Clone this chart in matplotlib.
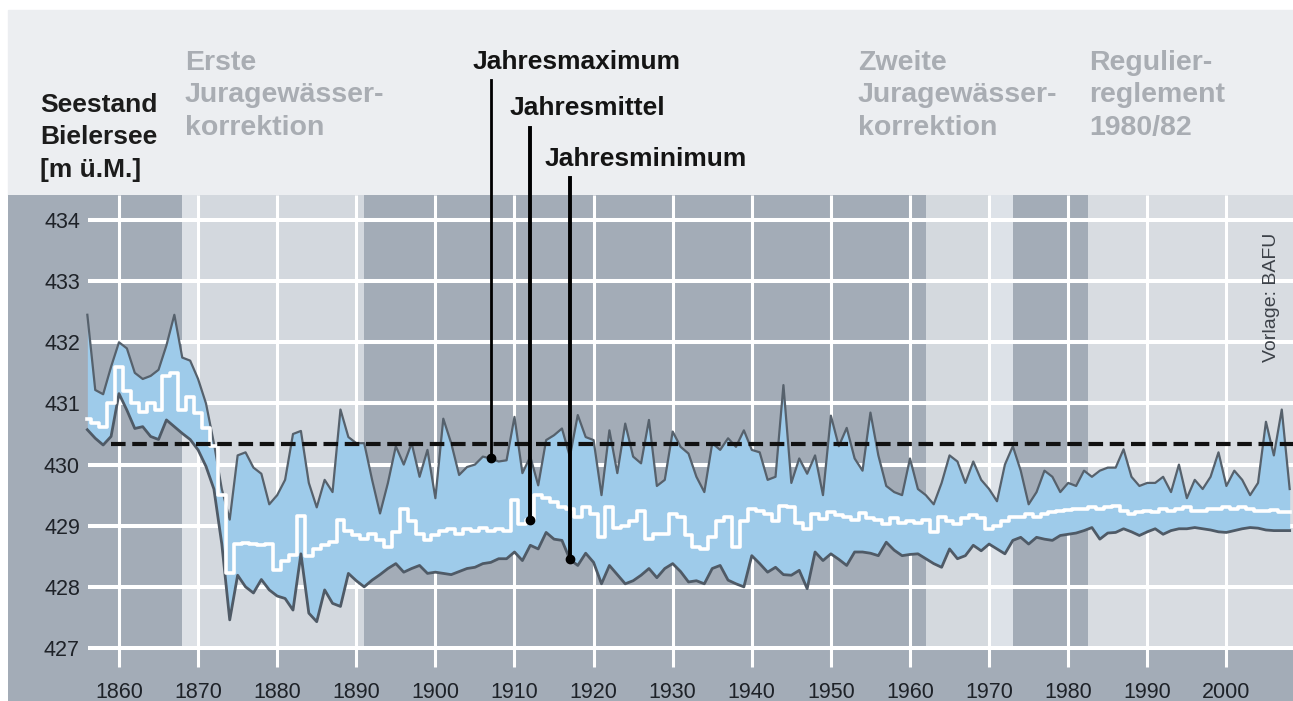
from matplotlib import pyplot as plt
from matplotlib.patches import Rectangle
import numpy as np

plt.rcParams['font.family'] = ['Liberation Sans', 'DejaVu Sans']

# annual lake levels Bielersee [m u.M.]
years = np.arange(1856, 2009)

max_level = [432.45, 431.22, 431.15, 431.6,
             432.0, 431.9, 431.5, 431.4, 431.45, 431.55, 431.95, 432.45, 431.75, 431.7,
             431.4, 431.0, 430.35, 429.6, 429.1, 430.15, 430.2, 429.95, 429.85, 429.35,
             429.5, 429.75, 430.5, 430.55, 429.7, 429.3, 429.75, 429.55, 430.9, 430.45,
             430.35, 430.35, 429.75, 429.2, 429.7, 430.3, 430.0, 430.35, 429.8, 430.24,
             429.45, 430.75, 430.35, 429.83, 429.96, 430.0, 430.13, 430.1, 430.05, 430.07,
             430.78, 429.86, 430.13, 429.66, 430.4, 430.48, 430.59, 430.13, 430.81, 430.45,
             430.4, 429.5, 430.56, 429.86, 430.67, 430.13, 430.02, 430.73, 429.65, 429.75,
             430.54, 430.29, 430.18, 429.8, 429.55, 430.35, 430.24, 430.43, 430.29, 430.56,
             430.24, 430.2, 429.75, 429.8, 431.3, 429.7, 430.1, 429.85, 430.15, 429.5,
             430.8, 430.3, 430.6, 430.1, 429.9, 430.85, 430.15, 429.65, 429.55, 429.5,
             430.1, 429.6, 429.5, 429.35, 429.7, 430.15, 430.05, 429.7, 430.05, 429.75,
             429.6, 429.4, 430.0, 430.3, 429.9, 429.35, 429.55, 429.9, 429.8, 429.55,
             429.7, 429.65, 429.9, 429.8, 429.9, 429.95, 429.95, 430.25, 429.8, 429.65,
             429.7, 429.7, 429.8, 429.55, 430.0, 429.45, 429.75, 429.6, 429.8, 430.2,
             429.65, 429.9, 429.75, 429.5, 429.7, 430.7, 430.15, 430.9, 429.6]

min_level = [430.57, 430.43, 430.32, 430.46,
             431.16, 430.89, 430.59, 430.62, 430.46, 430.41, 430.73, 430.62, 430.51, 430.41,
             430.24, 429.97, 429.6, 428.7, 427.46, 428.19, 428.0, 427.9, 428.12, 427.95,
             427.85, 427.81, 427.62, 428.54, 427.57, 427.43, 427.95, 427.73, 427.68, 428.22,
             428.1, 428.0, 428.11, 428.2, 428.3, 428.38, 428.24, 428.3, 428.35, 428.22,
             428.24, 428.22, 428.2, 428.25, 428.3, 428.32, 428.38, 428.4, 428.46, 428.46,
             428.57, 428.43, 428.68, 428.62, 428.89, 428.78, 428.76, 428.45, 428.35, 428.55,
             428.4, 428.05, 428.35, 428.2, 428.05, 428.1, 428.19, 428.3, 428.15, 428.3,
             428.38, 428.25, 428.08, 428.1, 428.05, 428.3, 428.35, 428.11, 428.05, 428.0,
             428.51, 428.38, 428.24, 428.32, 428.2, 428.19, 428.27, 427.97, 428.57, 428.43,
             428.54, 428.45, 428.35, 428.57, 428.57, 428.55, 428.51, 428.73, 428.6, 428.51,
             428.53, 428.54, 428.46, 428.38, 428.32, 428.62, 428.46, 428.51, 428.68, 428.59,
             428.7, 428.62, 428.54, 428.76, 428.81, 428.7, 428.81, 428.78, 428.76, 428.84,
             428.86, 428.88, 428.92, 428.97, 428.78, 428.88, 428.89, 428.95, 428.9, 428.84,
             428.9, 428.95, 428.86, 428.92, 428.95, 428.95, 428.97, 428.95, 428.93, 428.9,
             428.89, 428.92, 428.95, 428.97, 428.96, 428.93, 428.92, 428.92, 428.92]

mean_level = [430.75, 430.68, 430.62, 431.0,
              431.6, 431.2, 431.0, 430.86, 431.0, 430.9, 431.45, 431.5, 430.9, 431.1,
              430.85, 430.6, 430.3, 429.5, 428.22, 428.7, 428.72, 428.7, 428.68, 428.7,
              428.27, 428.43, 428.52, 429.16, 428.51, 428.62, 428.68, 428.73, 429.1, 428.92,
              428.84, 428.78, 428.86, 428.76, 428.65, 428.9, 429.27, 429.08, 428.86, 428.76,
              428.84, 428.92, 428.95, 428.86, 428.95, 428.92, 428.97, 428.92, 428.95, 428.92,
              429.42, 429.03, 429.1, 429.51, 429.46, 429.38, 429.3, 429.27, 429.14, 429.3,
              429.19, 428.81, 429.3, 428.97, 429.0, 429.08, 429.24, 428.78, 428.86, 428.86,
              429.19, 429.14, 428.84, 428.65, 428.62, 428.81, 429.08, 429.14, 428.65, 429.08,
              429.27, 429.24, 429.19, 429.08, 429.32, 429.3, 429.05, 428.95, 429.19, 429.11,
              429.22, 429.18, 429.15, 429.1, 429.2, 429.12, 429.1, 429.03, 429.12, 429.05,
              429.08, 429.05, 429.1, 428.89, 429.15, 429.08, 429.03, 429.12, 429.17, 429.12,
              428.95, 429.0, 429.08, 429.14, 429.14, 429.19, 429.14, 429.19, 429.22, 429.24,
              429.25, 429.27, 429.27, 429.3, 429.27, 429.3, 429.32, 429.24, 429.19, 429.22,
              429.24, 429.22, 429.27, 429.24, 429.27, 429.3, 429.24, 429.24, 429.27, 429.27,
              429.3, 429.27, 429.3, 429.27, 429.24, 429.24, 429.25, 429.22, 429.22]

ref_level = 430.34      # dashed line
ref_start = 1859

xtick_vals = np.arange(1860, 2001, 10)
ytick_vals = np.arange(427, 435)

# light background periods
band_starts = [1868, 1870, 1962, 1970, 1982.5]
band_ends = [1870, 1891, 1970, 1973, 2010]
band_colors = ['#dde1e6', '#d3d8de', '#d4d9de', '#dde2e8', '#d8dce1']

annot_labels = ['Jahresmaximum', 'Jahresmittel', 'Jahresminimum']
annot_years = [1907, 1912, 1917]

W, H = 1293, 701
fig = plt.figure(figsize=(W/100, H/100), dpi=100)
fig.patch.set_facecolor('white')
fig.patches.append(Rectangle((8/W, (H-195)/H), (W-8)/W, 185/H,
                             transform=fig.transFigure, color='#eceef1', zorder=-5))

ax = fig.add_axes([8/W, 0, (W-8)/W, (H-195)/H])
ax.set_facecolor('#a3acb7')
for s in ax.spines.values():
    s.set_visible(False)
xlo, xhi = 1845.97, 2008.42
ylo, yhi = 426.133, 434.409
ax.set_xlim(xlo, xhi)
ax.set_ylim(ylo, yhi)

for s, e, c in zip(band_starts, band_ends, band_colors):
    ax.add_patch(Rectangle((s, 427), e-s, yhi-427, color=c, lw=0, zorder=1))

ax.hlines(ytick_vals, 1856.08, xhi, colors='white', lw=2.9, zorder=2)
ax.vlines(xtick_vals, 426.69, yhi, colors='white', lw=2.2, zorder=2)

ax.fill_between(years, min_level, max_level, color='#9ecbea', lw=0, zorder=3)
ax.plot(years, max_level, color='#56616c', lw=1.6, zorder=4)
ax.plot(years, min_level, color='#4f5a66', lw=2.0, zorder=4)
ax.step(years, mean_level, where='mid', color='white', lw=2.6, zorder=5)
ax.hlines(ref_level, ref_start, xhi, colors='#111111', lw=3,
          linestyles=(0, (3.5, 1.6)), zorder=6)

ax.set_xticks(xtick_vals)
ax.set_yticks(ytick_vals)
ax.tick_params(axis='x', length=0, pad=-14, labelsize=15.5, labelcolor='#1e2228')
ax.tick_params(axis='y', length=0, pad=-51.8, labelsize=15.5, labelcolor='#1e2228')

# annotations: label in the header, vertical line down to the series
series = [max_level, mean_level, min_level]
text_x = [473, 510, 545]
text_base = [69, 115, 166]
line_top = [80, 128, 178]
line_w = [2.0, 2.8, 2.8]
for lab, yr, ser, tx, tb, lt, lw in zip(annot_labels, annot_years, series,
                                        text_x, text_base, line_top, line_w):
    val = ser[list(years).index(yr)]
    top = 434 + (220 - lt)/61.14
    ax.plot([yr, yr], [val, top], color='black', lw=lw, clip_on=False, zorder=7)
    ax.plot([yr], [val], 'o', color='black', ms=6, zorder=7)
    fig.text(tx/W, 1 - tb/H, lab, fontsize=19, fontweight='bold', color='#141414',
             va='baseline', ha='left')

def header(x, baselines, lines, color, size):
    for b, t in zip(baselines, lines):
        fig.text(x/W, 1 - b/H, t, fontsize=size, fontweight='bold', color=color,
                 va='baseline', ha='left')

header(40, [112, 144, 177], ['Seestand', 'Bielersee', '[m ü.M.]'], '#1c1c1c', 19)
header(185, [70, 102, 135], ['Erste', 'Juragewässer-', 'korrektion'], '#a9adb3', 20.5)
header(858, [70, 102, 135], ['Zweite', 'Juragewässer-', 'korrektion'], '#a9adb3', 20.5)
header(1089, [70, 102, 135], ['Regulier-', 'reglement', '1980/82'], '#a9adb3', 20.5)

fig.text(1272/W, 1 - 297/H, 'Vorlage: BAFU', rotation=90, ha='center', va='center',
         fontsize=14, color='#3c4148')

plt.savefig('out.png', dpi=100)
